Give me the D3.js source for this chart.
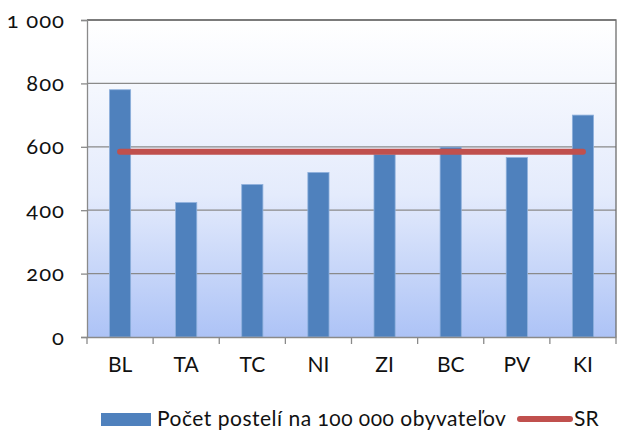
<!DOCTYPE html>
<html><head><meta charset="utf-8">
<script src="https://cdn.jsdelivr.net/npm/d3@7"></script>
<style>body{margin:0;background:#fff}svg{display:block}text{font-family:Lato,"Open Sans",sans-serif;fill:#111;font-variant-numeric:oldstyle-nums}</style>
</head><body><svg id="c" width="625" height="430"></svg>
<script>
const categories = ["BL","TA","TC","NI","ZI","BC","PV","KI"];
const bedValues = [780,424,481,519,576,599,566,700];
const srValue = 584;
const yTicks = [0,200,400,600,800,1000];
const yTickLabels = ["0","200","400","600","800","1 000"];
const seriesNames = ["Počet postelí na 100 000 obyvateľov","SR"];

const svg = d3.select("#c");
const L=87, R=616, T=20, B=337;
const FS=21;
const x = d3.scaleBand().domain(categories).range([L,R]).paddingInner(0.68).paddingOuter(0.34);
const xb = d3.scaleBand().domain(categories).range([L,R]);
const y = d3.scaleLinear().domain([0,1000]).range([B,T]);

const defs = svg.append("defs");
const g = defs.append("linearGradient").attr("id","bg").attr("x1",0).attr("y1",0).attr("x2",0).attr("y2",1);
g.append("stop").attr("offset","0%").attr("stop-color","#ffffff");
g.append("stop").attr("offset","55%").attr("stop-color","#e4ebfc");
g.append("stop").attr("offset","100%").attr("stop-color","#adc3f6");

svg.append("rect").attr("x",L).attr("y",T).attr("width",R-L).attr("height",B-T).attr("fill","url(#bg)");

// gridlines
svg.append("g").selectAll("line").data(yTicks.filter(d=>d>0)).join("line")
  .attr("x1",L).attr("x2",R).attr("y1",d=>y(d)).attr("y2",d=>y(d))
  .attr("stroke","#8a8a8a").attr("stroke-width",1.3);
// top and right border
svg.append("path").attr("d",`M${L},${T}H${R}V${B}`).attr("fill","none").attr("stroke","#6e6e6e").attr("stroke-width",1.3);

// bars
svg.append("g").selectAll("rect").data(categories).join("rect")
  .attr("x",d=>x(d)).attr("width",x.bandwidth())
  .attr("y",(d,i)=>y(bedValues[i])).attr("height",(d,i)=>B-y(bedValues[i]))
  .attr("fill","#4f81bd").attr("stroke","#8eb0dc").attr("stroke-width",0.8);

// SR line
const line = d3.line().x(d=>x(d)+x.bandwidth()/2).y(()=>y(srValue));
svg.append("path").datum(categories).attr("d",line)
  .attr("fill","none").attr("stroke","#c0504d").attr("stroke-width",6).attr("stroke-linecap","round");

// y axis
const yAxis = d3.axisLeft(y).tickValues(yTicks).tickFormat((d,i)=>yTickLabels[i]).tickSize(6).tickPadding(16);
const ya = svg.append("g").attr("transform",`translate(${L},0)`).call(yAxis);
ya.select(".domain").attr("stroke","#8a8a8a").attr("stroke-width",1.3);
ya.selectAll(".tick line").attr("stroke","#8a8a8a").attr("stroke-width",1.3);
ya.selectAll("text").attr("font-size",22).attr("letter-spacing",1).attr("fill","#111").attr("font-family","Lato, 'Open Sans', sans-serif");

// x axis
const xAxis = d3.axisBottom(xb).tickSize(0).tickPadding(20);
const xa = svg.append("g").attr("transform",`translate(0,${B})`).call(xAxis);
xa.select(".domain").attr("stroke","#8a8a8a").attr("stroke-width",1.3);
xa.selectAll("text").attr("font-size",FS).attr("fill","#111").attr("font-family","Lato, 'Open Sans', sans-serif");
svg.append("g").selectAll("line").data(categories.concat(["_end"])).join("line")
  .attr("x1",(d,i)=>L+i*xb.bandwidth()).attr("x2",(d,i)=>L+i*xb.bandwidth())
  .attr("y1",B).attr("y2",B+7).attr("stroke","#8a8a8a").attr("stroke-width",1.3);

// legend
const lg = svg.append("g");
lg.append("rect").attr("x",101).attr("y",413).attr("width",50).attr("height",13).attr("fill","#4f81bd");
lg.append("text").attr("x",157).attr("y",426).attr("font-size",FS).attr("letter-spacing",0.5).text(seriesNames[0]);
lg.append("line").attr("x1",520).attr("x2",570).attr("y1",419).attr("y2",419)
  .attr("stroke","#c0504d").attr("stroke-width",6).attr("stroke-linecap","round");
lg.append("text").attr("x",574).attr("y",426).attr("font-size",FS).text(seriesNames[1]);
</script></body></html>
